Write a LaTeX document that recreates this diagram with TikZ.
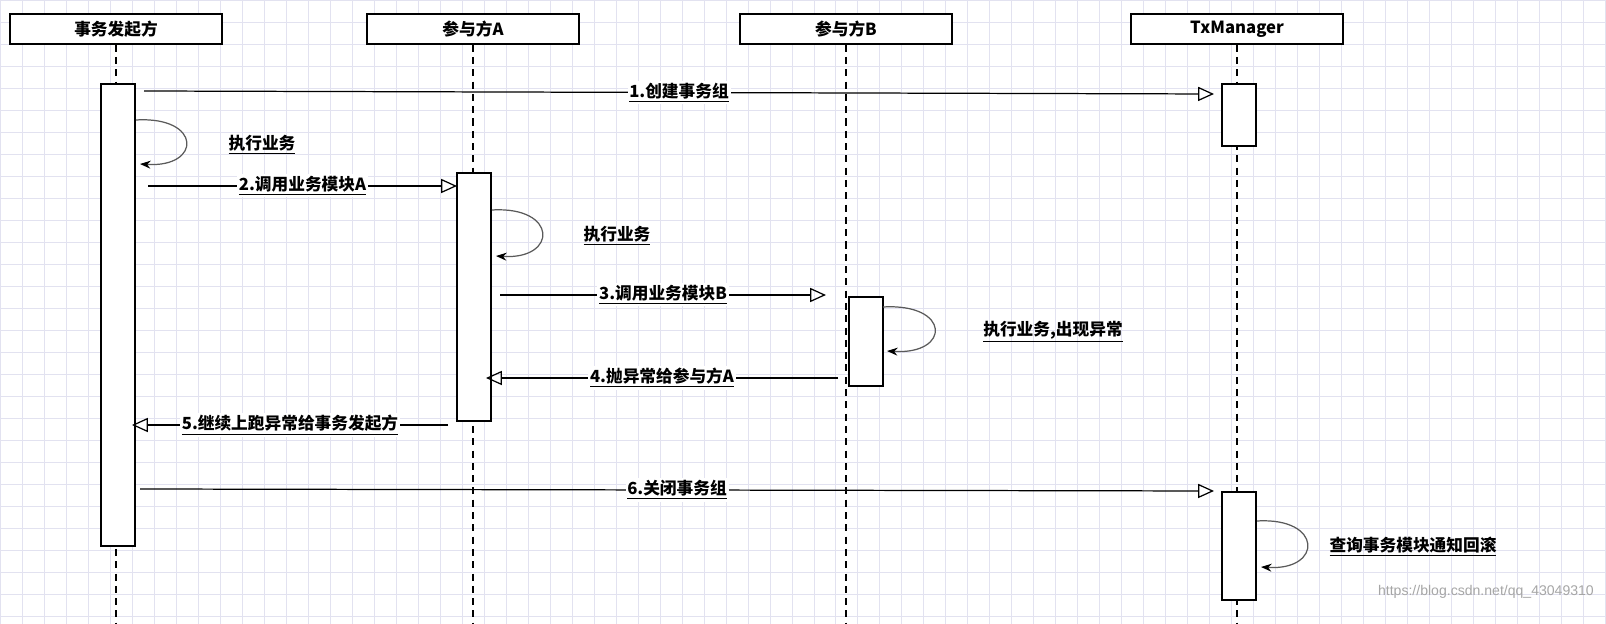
\documentclass[tikz,border=0pt]{standalone}
\usepackage{fontspec}
\setmainfont{Liberation Sans}
\newfontfamily\cjk{Noto Sans CJK SC}
\usetikzlibrary{arrows.meta,positioning}
\definecolor{rejilla}{RGB}{226,226,240}
\definecolor{bucle}{RGB}{90,90,90}
\tikzstyle{actor}=[draw, line width=0.8pt, minimum width=4.24cm,
                   minimum height=0.6cm, inner sep=0pt,
                   font=\cjk\bfseries\fontsize{9.5}{10}\selectfont]
\tikzstyle{activa}=[draw, fill=white, line width=0.8pt,
                    minimum width=0.68cm, inner sep=0pt]
\tikzstyle{vida}=[dashed, line width=0.6pt, dash pattern=on 4pt off 3pt]
\tikzstyle{msg}=[line width=0.7pt, -{Triangle[open,length=9pt,width=8pt]}]
\tikzstyle{self}=[line width=0.7pt, bucle, -{Stealth[black,length=6pt]}]
\tikzstyle{etiq}=[font=\cjk\bfseries\fontsize{9.5}{10}\selectfont,
                  fill=white, inner sep=1pt]
\begin{document}
\begin{tikzpicture}[x=0.02cm,y=-0.02cm]
    \useasboundingbox (0,0) rectangle (1606,624);
    % background grid
    \fill[white] (0,0) rectangle (1606,624);
    \draw[rejilla, line width=0.4pt, step=0.44cm] (0,0) grid (1606,624);

    % actors
    \foreach \n/\x/\t in {ini/116/事务发起方, pa/473/参与方A,
                          pb/846/参与方B, tx/1237/TxManager}
    {
        \node[actor, fill=white] (\n) at (\x,29) {\t};
        \coordinate (\n-end) at (\x,624);
        \draw[vida] (\n) -- (\n-end);
    }

    % activations
    \node[activa, minimum height=9.24cm] (aini) at (118,315) {};
    \node[activa, minimum height=4.96cm] (apa) at (474,297) {};
    \node[activa, minimum height=1.78cm] (apb) at (866,341.5) {};
    \node[activa, minimum height=1.24cm] (atx1) at (1239,115) {};
    \node[activa, minimum height=2.16cm] (atx2) at (1239,546) {};

    % messages
    \coordinate (m1a) at (144,91);  \coordinate (m1b) at (1214,94);
    \coordinate (m2a) at (148,186); \coordinate (m2b) at (457,186);
    \coordinate (m3a) at (500,295); \coordinate (m3b) at (826,295);
    \coordinate (m4a) at (838,378); \coordinate (m4b) at (486,378);
    \coordinate (m5a) at (448,425); \coordinate (m5b) at (132,425);
    \coordinate (m6a) at (140,489); \coordinate (m6b) at (1214,491);
    \draw[msg] (m1a) -- node[etiq]{\underline{1.创建事务组}} (m1b);
    \draw[msg] (m2a) -- node[etiq]{\underline{2.调用业务模块A}} (m2b);
    \draw[msg] (m3a) -- node[etiq]{\underline{3.调用业务模块B}} (m3b);
    \draw[msg] (m4a) -- node[etiq]{\underline{4.抛异常给参与方A}} (m4b);
    \draw[msg] (m5a) -- node[etiq]{\underline{5.继续上跑异常给事务发起方}} (m5b);
    \draw[msg] (m6a) -- node[etiq]{\underline{6.关闭事务组}} (m6b);

    % self calls
    \foreach \x/\ya/\yb/\w/\lx/\t in {
        136/120/164/56/262/执行业务,
        492/210/256/56/617/执行业务,
        883/307/351/58/1053/{执行业务,出现异常},
        1257/521/567/56/1413/查询事务模块通知回滚}
    {
        \draw[self] (\x,\ya) .. controls (\x+\w+10,\ya-4) and (\x+\w+10,\yb+4) .. (\x+4,\yb);
        \node[etiq, fill=none] at (\lx,{(\ya+\yb)/2+3}) {\underline{\t}};
    }

    % watermark
    \node[text=gray!70, font=\fontsize{8}{9}\selectfont, anchor=east]
        (marca) at (1600,592) {https://blog.csdn.net/qq\_43049310};
\end{tikzpicture}
\end{document}
